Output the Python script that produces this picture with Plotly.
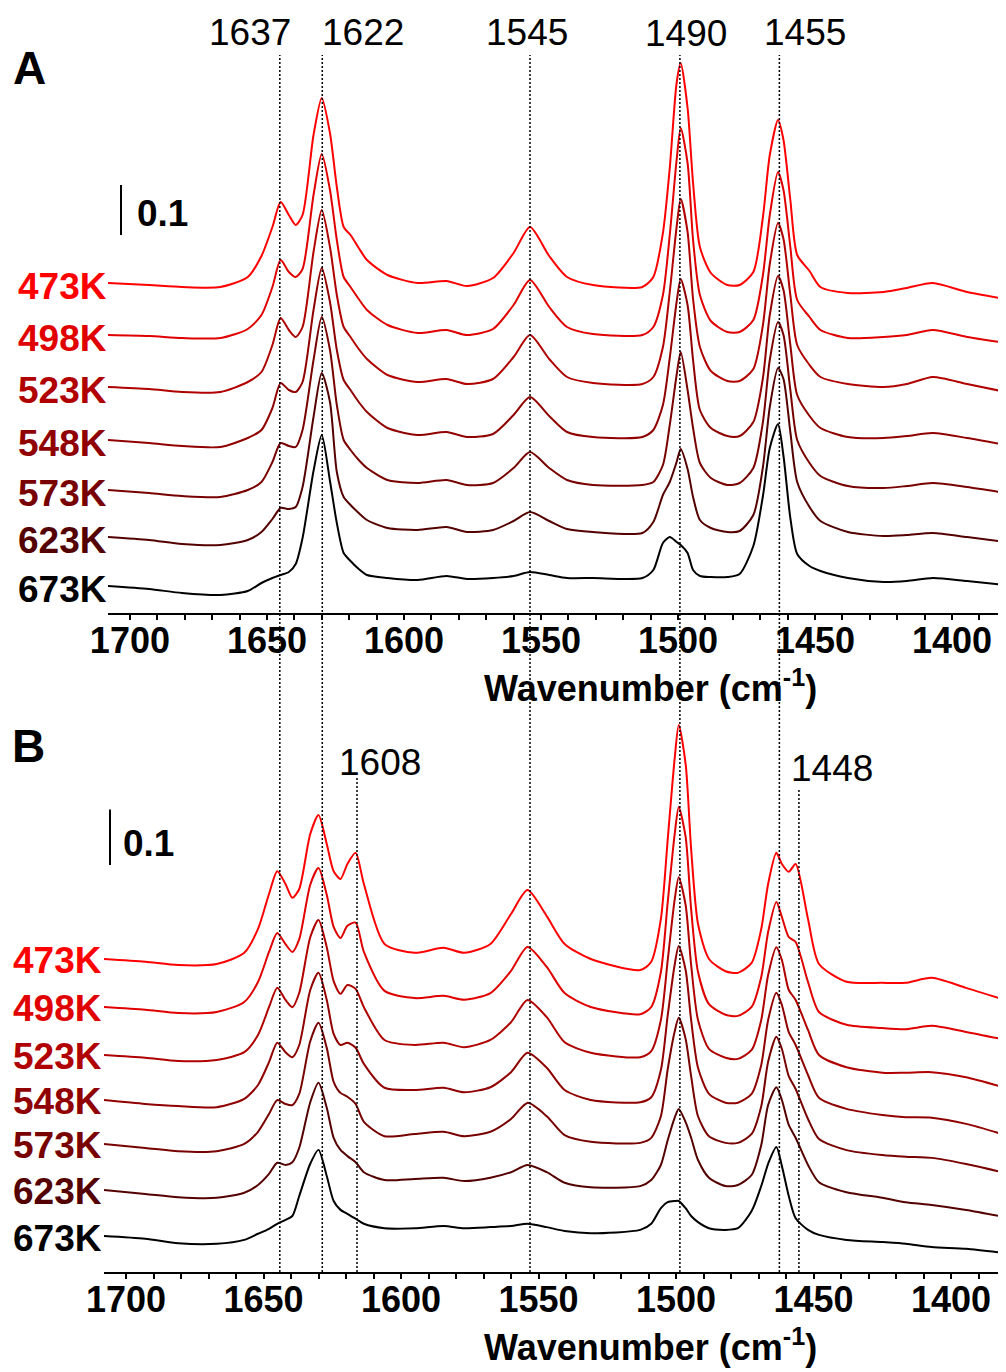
import plotly.graph_objects as go

# ---------------- data ----------------
wavenumber = [1708, 1693, 1681, 1667, 1657, 1652, 1648, 1645, 1642, 1639.5, 1637, 1633, 1630, 1627,
              1624.5, 1622, 1619.5, 1616.5, 1613.5, 1606, 1595, 1584.5, 1577, 1567.5, 1560, 1554,
              1547, 1540.5, 1531, 1513, 1509, 1505.5, 1503, 1500.5, 1499, 1496.5, 1494.5, 1492,
              1488, 1482, 1477.5, 1472.5, 1469, 1466.5, 1463.5, 1461.5, 1459, 1456.5, 1452, 1448,
              1438, 1425, 1416.5, 1407, 1394.5, 1380.3]

temps = ["473K", "498K", "523K", "548K", "573K", "623K", "673K"]
colors = ["#FF0000", "#E00000", "#B00000", "#900000", "#780000", "#550000", "#000000"]

# Panel A absorbance (mAbs, relative to each trace's own baseline)
A_473K = [0, -4, -8, -8, 12, 54, 112, 162, 136, 116, 136, 296, 370, 300, 192, 112, 96, 70, 46, 16,
          0, 4, -6, 10, 60, 112, 54, 12, -4, -8, 12, 100, 230, 400, 440, 350, 200, 72, 20, -4,
          -4, 22, 132, 256, 326, 286, 166, 56, 24, -8, -20, -18, -10, 0, -18, -32]
A_498K = [0, -2, -6, -6, 12, 40, 96, 150, 126, 116, 132, 280, 362, 290, 190, 116, 96, 72, 50, 20,
          4, 10, 0, 12, 60, 110, 56, 16, 2, 0, 16, 80, 200, 350, 414, 344, 190, 80, 28, 6,
          6, 30, 120, 240, 326, 290, 176, 70, 36, 10, -6, -4, 0, 10, -4, -16]
A_523K = [0, -4, -10, -10, 10, 30, 84, 138, 114, 100, 120, 270, 354, 280, 184, 120, 100, 76, 56, 24,
          10, 16, 6, 16, 60, 104, 56, 20, 8, 6, 20, 80, 190, 320, 376, 310, 176, 80, 32, 12,
          12, 36, 124, 246, 328, 296, 184, 84, 44, 20, 6, 0, 6, 20, 6, -10]
A_548K = [0, -6, -12, -14, 4, 20, 64, 114, 100, 96, 116, 260, 344, 276, 180, 120, 100, 76, 56, 24,
          10, 16, 6, 12, 50, 86, 48, 16, 6, 6, 20, 70, 164, 276, 322, 270, 160, 60, 24, 8,
          8, 36, 124, 250, 328, 300, 190, 90, 48, 24, 6, 4, 8, 14, 4, -10]
A_573K = [0, -6, -12, -14, 0, 16, 56, 94, 88, 86, 120, 260, 346, 280, 170, 100, 80, 60, 44, 20,
          14, 20, 10, 14, 44, 76, 44, 20, 10, 10, 16, 50, 130, 230, 276, 200, 124, 54, 24, 10,
          14, 44, 136, 260, 336, 310, 200, 100, 54, 28, 8, 4, 8, 14, 6, -6]
A_623K = [0, -6, -14, -16, -6, 10, 36, 58, 56, 60, 100, 240, 328, 270, 130, 80, 64, 48, 34, 18,
          14, 20, 10, 14, 32, 50, 32, 16, 10, 8, 30, 84, 110, 150, 176, 136, 80, 34, 18, 10,
          12, 44, 140, 260, 338, 316, 210, 110, 60, 32, 10, 2, 4, 8, 0, -10]
A_673K = [0, -6, -14, -18, -10, 6, 16, 22, 28, 44, 96, 230, 302, 210, 126, 66, 50, 34, 22, 16,
          12, 20, 14, 16, 20, 28, 22, 16, 16, 16, 32, 86, 98, 88, 82, 66, 32, 20, 18, 18,
          24, 80, 180, 276, 324, 260, 136, 64, 40, 30, 16, 8, 10, 16, 10, 2]

# Panel B absorbance (mAbs, relative to each trace's own baseline)
B_473K = [0, -5, -11, -9, 11, 54, 117, 158, 135, 110, 126, 225, 259, 207, 158, 144, 171, 191, 135, 27,
          11, 20, 11, 27, 81, 124, 77, 27, 0, -20, -5, 72, 216, 360, 421, 351, 198, 63, 0, -22,
          -25, -7, 54, 135, 191, 171, 157, 171, 72, -9, -41, -43, -43, -34, -52, -74]
B_498K = [0, -5, -11, -9, 9, 45, 99, 133, 113, 99, 122, 220, 250, 202, 144, 124, 146, 152, 99, 29,
          16, 20, 13, 25, 65, 108, 72, 25, 0, -13, 0, 63, 189, 310, 360, 306, 176, 63, 5, -14,
          -16, 0, 54, 135, 189, 162, 126, 117, 45, -9, -32, -38, -40, -34, -45, -59]
B_523K = [0, -5, -11, -9, 5, 36, 86, 121, 99, 86, 112, 212, 243, 194, 133, 110, 126, 119, 86, 27,
          18, 22, 14, 27, 59, 99, 68, 23, 4, -4, 7, 63, 171, 279, 320, 270, 162, 63, 11, -5,
          -7, 9, 63, 144, 194, 171, 117, 99, 45, 0, -22, -32, -32, -31, -40, -59]
B_548K = [0, -7, -11, -13, 2, 27, 68, 103, 86, 77, 99, 198, 229, 180, 119, 99, 103, 94, 65, 22,
          18, 22, 14, 23, 50, 85, 58, 18, 0, -4, 5, 54, 153, 243, 277, 234, 144, 58, 11, -5,
          -5, 11, 63, 144, 193, 171, 122, 99, 45, 4, -16, -27, -31, -32, -43, -63]
B_573K = [0, -7, -13, -13, 0, 22, 54, 79, 72, 70, 90, 185, 218, 173, 112, 92, 85, 72, 40, 14,
          18, 22, 14, 22, 45, 74, 50, 16, 4, 2, 11, 50, 135, 202, 227, 189, 122, 50, 14, 2,
          2, 18, 68, 148, 193, 171, 122, 99, 45, 9, -11, -20, -23, -25, -36, -52]
B_623K = [0, -7, -13, -14, -5, 9, 29, 49, 45, 50, 76, 158, 193, 148, 94, 72, 61, 50, 32, 18,
          20, 22, 16, 22, 32, 45, 32, 13, 5, 7, 18, 45, 90, 130, 146, 122, 94, 54, 22, 7,
          9, 27, 81, 153, 185, 162, 117, 94, 45, 14, -4, -14, -22, -27, -36, -49]
B_673K = [0, -5, -13, -14, -7, 4, 13, 22, 29, 36, 72, 130, 155, 108, 63, 47, 40, 31, 22, 14,
          14, 18, 14, 16, 18, 22, 16, 9, 5, 11, 22, 50, 61, 63, 63, 50, 36, 25, 14, 11,
          14, 45, 90, 130, 160, 126, 72, 32, 11, 2, -7, -11, -14, -20, -23, -31]

# stacking offsets (absorbance units)
offsets_A = [0.660, 0.556, 0.452, 0.346, 0.246, 0.152, 0.054]
offsets_B = [0.5634, 0.4770, 0.3906, 0.3096, 0.2304, 0.1476, 0.0648]

# marked bands: label text and the axis position of the dotted guide line
bands_common = ["1637", "1622", "1545", "1490", "1455"]
bands_common_pos = [1645.3, 1629.8, 1554.0, 1499.3, 1463.0]
bands_B = ["1608", "1448"]
bands_B_pos = [1616.0, 1455.3]

tick_values = [1700, 1650, 1600, 1550, 1500, 1450, 1400]

spectra_A = [A_473K, A_498K, A_523K, A_548K, A_573K, A_623K, A_673K]
spectra_B = [B_473K, B_498K, B_523K, B_548K, B_573K, B_623K, B_673K]

# ---------------- figure ----------------
W, H = 1006, 1372
PAGE = 8  # page margin in front of the figure
FONT = "Liberation Sans, Arial, sans-serif"


def px_x(p):
    """screen x (px) -> paper fraction"""
    return (p - PAGE) / W


def px_y(p):
    """screen y (px, from top) -> paper fraction"""
    return (H - (p - PAGE)) / H


fig = go.Figure()

for spec, off, col in zip(spectra_A, offsets_A, colors):
    fig.add_trace(go.Scatter(x=wavenumber, y=[off + v / 1000 for v in spec], mode="lines",
                             line=dict(color=col, width=2, shape="spline", smoothing=0.7),
                             xaxis="x", yaxis="y", hoverinfo="skip"))
for spec, off, col in zip(spectra_B, offsets_B, colors):
    fig.add_trace(go.Scatter(x=wavenumber, y=[off + v / 1000 for v in spec], mode="lines",
                             line=dict(color=col, width=2, shape="spline", smoothing=0.7),
                             xaxis="x2", yaxis="y2", hoverinfo="skip"))

axis_common = dict(
    tickvals=tick_values, automargin=False,
    ticks="outside", ticklen=5, tickwidth=1.5, tickcolor="black",
    minor=dict(dtick=10, tick0=1700, ticks="outside", ticklen=5, tickwidth=1.5, tickcolor="black"),
    showline=True, linewidth=2, linecolor="black", showgrid=False, zeroline=False,
    tickfont=dict(family=FONT, size=36, color="black", weight="bold"),
    ticklabelstandoff=-10,
)

# A: x-axis from screen 108 to 1006 (1708 .. 1380.3), baseline at 613, 500 px per absorbance unit
# B: x-axis from screen 104 to 1006 (1708 .. 1380),   baseline at 1272, 555.6 px per unit
fig.update_layout(
    width=W, height=H, margin=dict(l=0, r=0, t=0, b=0, autoexpand=False),
    paper_bgcolor="white", plot_bgcolor="white", showlegend=False,
    xaxis=dict(domain=[px_x(108), px_x(1006)], range=[1708, 1380.3], anchor="y", **axis_common),
    yaxis=dict(domain=[px_y(613), px_y(8)], range=[0, (613 - 8) / 500], visible=False),
    xaxis2=dict(domain=[px_x(104), px_x(1006)], range=[1708, 1380], anchor="y2", **axis_common),
    yaxis2=dict(domain=[px_y(1272), px_y(690)], range=[0, (1272 - 690) / 555.6], visible=False),
)

shapes = []
annotations = []
dot = "2px,2px"

# dotted guide lines through both panels
label_shift_common = [-30, 41, -3, 6, 26]
label_y_common = [32, 32, 32, 34, 32]
for lab, pos, sh, ly in zip(bands_common, bands_common_pos, label_shift_common, label_y_common):
    shapes.append(dict(type="line", xref="x", yref="paper", x0=pos, x1=pos,
                       y0=px_y(1272), y1=px_y(55), line=dict(color="black", width=1.5, dash=dot)))
    annotations.append(dict(text=lab, xref="x", yref="paper", x=pos, y=px_y(ly), xshift=sh,
                            showarrow=False, xanchor="center", yanchor="middle",
                            font=dict(family=FONT, size=37, color="black")))

# guide lines only in panel B
label_shift_B = [23, 33]
label_y_B = [762, 768]
line_top_B = [778, 789]
for lab, pos, sh, ly, lt in zip(bands_B, bands_B_pos, label_shift_B, label_y_B, line_top_B):
    shapes.append(dict(type="line", xref="x2", yref="paper", x0=pos, x1=pos,
                       y0=px_y(1272), y1=px_y(lt), line=dict(color="black", width=1.5, dash=dot)))
    annotations.append(dict(text=lab, xref="x2", yref="paper", x=pos, y=px_y(ly), xshift=sh,
                            showarrow=False, xanchor="center", yanchor="middle",
                            font=dict(family=FONT, size=37, color="black")))

# scale bars (0.1 absorbance)
shapes.append(dict(type="line", xref="paper", yref="y", x0=px_x(121), x1=px_x(121),
                   y0=0.756, y1=0.856, line=dict(color="black", width=2)))
annotations.append(dict(text="<b>0.1</b>", xref="paper", yref="y", x=px_x(135), y=0.806, yshift=-3,
                        showarrow=False, xanchor="left", yanchor="middle",
                        font=dict(family=FONT, size=37, color="black")))
shapes.append(dict(type="line", xref="paper", yref="y2", x0=px_x(110), x1=px_x(110),
                   y0=0.7325, y1=0.8325, line=dict(color="black", width=2)))
annotations.append(dict(text="<b>0.1</b>", xref="paper", yref="y2", x=px_x(121), y=0.7825, yshift=-6,
                        showarrow=False, xanchor="left", yanchor="middle",
                        font=dict(family=FONT, size=37, color="black")))

# temperature labels
for t, off, col in zip(temps, offsets_A, colors):
    annotations.append(dict(text=f"<b>{t}</b>", xref="paper", yref="y", x=px_x(109), y=off, yshift=-3,
                            showarrow=False, xanchor="right", yanchor="middle",
                            font=dict(family=FONT, size=37, color=col)))
for t, off, col in zip(temps, offsets_B, colors):
    annotations.append(dict(text=f"<b>{t}</b>", xref="paper", yref="y2", x=px_x(104), y=off, yshift=-2,
                            showarrow=False, xanchor="right", yanchor="middle",
                            font=dict(family=FONT, size=37, color=col)))

# panel letters
annotations.append(dict(text="<b>A</b>", xref="paper", yref="paper", x=px_x(29), y=px_y(68),
                        showarrow=False, xanchor="center", yanchor="middle",
                        font=dict(family=FONT, size=46, color="black")))
annotations.append(dict(text="<b>B</b>", xref="paper", yref="paper", x=px_x(28), y=px_y(746),
                        showarrow=False, xanchor="center", yanchor="middle",
                        font=dict(family=FONT, size=46, color="black")))

# axis titles
for yc in (686, 1345):
    annotations.append(dict(text="<b>Wavenumber (cm<sup>-1</sup>)</b>", xref="paper", yref="paper",
                            x=px_x(650), y=px_y(yc), showarrow=False, xanchor="center", yanchor="middle",
                            font=dict(family=FONT, size=36, color="black")))

fig.update_layout(shapes=shapes, annotations=annotations)
fig.write_html("out.html")
